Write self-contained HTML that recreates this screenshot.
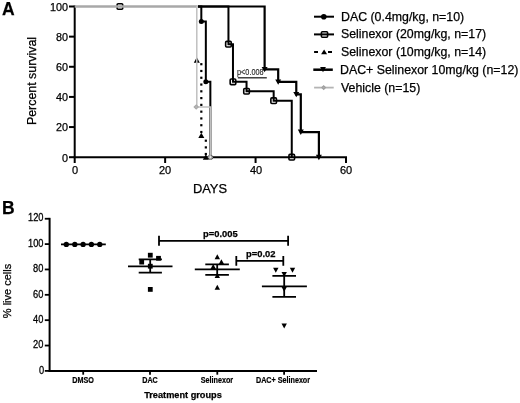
<!DOCTYPE html>
<html><head><meta charset="utf-8"><style>
html,body{margin:0;padding:0;background:#fff;}
body{width:520px;height:403px;position:relative;overflow:hidden;font-family:"Liberation Sans",sans-serif;color:#000;}
.t{position:absolute;white-space:nowrap;line-height:1;will-change:transform;-webkit-text-stroke:0.25px #000;}
.b{font-weight:bold;}
.r{text-align:right;}
.c{text-align:center;}
</style></head><body>
<svg width="520" height="403" viewBox="0 0 520 403" style="position:absolute;left:0;top:0">
<g stroke="#000" stroke-width="2" fill="none" stroke-linecap="butt">
<path d="M74.7,5.5 V163.0"/>
<path d="M73.7,157.2 H347.02"/>
<path d="M165.14,157.2 V163.0"/>
<path d="M255.58,157.2 V163.0"/>
<path d="M346.02,157.2 V163.0"/>
<path d="M69.00,157.20 H74.7"/>
<path d="M69.00,127.06 H74.7"/>
<path d="M69.00,96.92 H74.7"/>
<path d="M69.00,66.78 H74.7"/>
<path d="M69.00,36.64 H74.7"/>
<path d="M69.00,6.50 H74.7"/>
</g>
<g fill="none" stroke="#000" stroke-width="2">
<path d="M197.92,6.50 H228.45 V44.17 H232.97 V81.85 H246.54 V91.27 H273.67 V100.69 H291.76 V157.20"/>
<path d="M197.92,6.50 H264.62 V69.34 H278.19 V81.85 H296.28 V94.36 H300.80 V132.03 H318.89 V157.20" stroke-width="2.2"/>
<path d="M197.92,6.50 H201.32 V21.57 H205.84 V81.85 H210.36 V157.20"/>
</g>
<rect x="117.12" y="3.70" width="5.6" height="5.6" rx="1.0" fill="none" stroke="#000" stroke-width="1.6"/>
<rect x="225.65" y="41.38" width="5.6" height="5.6" rx="1.0" fill="none" stroke="#000" stroke-width="1.6"/>
<rect x="230.17" y="79.05" width="5.6" height="5.6" rx="1.0" fill="none" stroke="#000" stroke-width="1.6"/>
<rect x="243.74" y="88.47" width="5.6" height="5.6" rx="1.0" fill="none" stroke="#000" stroke-width="1.6"/>
<rect x="270.87" y="97.89" width="5.6" height="5.6" rx="1.0" fill="none" stroke="#000" stroke-width="1.6"/>
<rect x="288.96" y="154.40" width="5.6" height="5.6" rx="1.0" fill="none" stroke="#000" stroke-width="1.6"/>
<circle cx="201.32" cy="21.57" r="2.5" fill="#000"/>
<circle cx="205.84" cy="81.85" r="2.5" fill="#000"/>
<circle cx="210.36" cy="157.20" r="2.5" fill="#000"/>
<rect x="200.22" y="63.10" width="2.2" height="2.2" fill="#000"/>
<rect x="200.22" y="69.88" width="2.2" height="2.2" fill="#000"/>
<rect x="200.22" y="76.66" width="2.2" height="2.2" fill="#000"/>
<rect x="200.22" y="83.44" width="2.2" height="2.2" fill="#000"/>
<rect x="200.22" y="90.22" width="2.2" height="2.2" fill="#000"/>
<rect x="200.22" y="97.00" width="2.2" height="2.2" fill="#000"/>
<rect x="200.22" y="103.78" width="2.2" height="2.2" fill="#000"/>
<rect x="200.22" y="110.56" width="2.2" height="2.2" fill="#000"/>
<rect x="200.22" y="117.34" width="2.2" height="2.2" fill="#000"/>
<rect x="200.22" y="124.12" width="2.2" height="2.2" fill="#000"/>
<rect x="200.22" y="130.90" width="2.2" height="2.2" fill="#000"/>
<rect x="204.74" y="139.60" width="2.2" height="2.2" fill="#000"/>
<rect x="204.74" y="146.30" width="2.2" height="2.2" fill="#000"/>
<rect x="204.74" y="152.90" width="2.2" height="2.2" fill="#000"/>
<path d="M196.79,57.33 L199.79,62.73 L193.79,62.73Z" fill="#000"/>
<path d="M201.32,132.68 L204.32,138.08 L198.32,138.08Z" fill="#000"/>
<path d="M205.84,154.23 L208.84,159.63 L202.84,159.63Z" fill="#000"/>
<path d="M264.62,72.31 L267.62,66.91 L261.62,66.91Z" fill="#000"/>
<path d="M278.19,84.82 L281.19,79.42 L275.19,79.42Z" fill="#000"/>
<path d="M296.28,97.33 L299.28,91.93 L293.28,91.93Z" fill="#000"/>
<path d="M300.80,135.00 L303.80,129.60 L297.80,129.60Z" fill="#000"/>
<path d="M318.89,160.17 L321.89,154.77 L315.89,154.77Z" fill="#000"/>
<path d="M74.7,6.5 H197.19400000000002" fill="none" stroke="#a8a8a8" stroke-width="2.3"/>
<path d="M196.794,5.4 V107.01689999999999 H210.36 V157.2" fill="none" stroke="#c0c0c0" stroke-width="1.5"/>
<path d="M196.19,105.02 L198.19,107.02 L196.19,109.02 L194.19,107.02Z" fill="#b8b8b8" stroke="#aaa" stroke-width="1.2"/>
<path d="M210.36,155.20 L212.36,157.20 L210.36,159.20 L208.36,157.20Z" fill="#eee" stroke="#aaa" stroke-width="1.2"/>
<path d="M237.8,77.8 H266.8" stroke="#222" stroke-width="1.3"/>
<g stroke="#000" stroke-width="2" fill="none">
<path d="M314,16.7 H334"/>
<path d="M314,34.4 H334"/>
<path d="M314.1,52.0 H318 M328,52.0 H332"/>
<path d="M313.3,69.7 H332.8" stroke-width="2.5"/>
<path d="M314.1,87.6 H333.7" stroke="#b4b4b4" stroke-width="1.8"/>
</g>
<circle cx="323.80" cy="16.70" r="2.8" fill="#000"/>
<rect x="321.4" y="31.80" width="6.2" height="5.4" rx="1" fill="none" stroke="#000" stroke-width="1.6"/>
<path d="M324.10,49.56 L327.10,54.36 L321.10,54.36Z" fill="#000"/>
<path d="M323.00,72.16 L325.90,66.96 L320.10,66.96Z" fill="#000"/>
<path d="M323.70,85.80 L325.50,87.60 L323.70,89.40 L321.90,87.60Z" fill="#b0b0b0" stroke="#a0a0a0" stroke-width="1.2"/>
<g stroke="#000" stroke-width="1.8" fill="none">
<path d="M49.6,217.84 V371.90" stroke-width="2"/>
<path d="M48.6,370.90 H317" stroke-width="2"/>
<path d="M44.8,370.90 H49.5"/>
<path d="M44.8,345.54 H49.5"/>
<path d="M44.8,320.18 H49.5"/>
<path d="M44.8,294.82 H49.5"/>
<path d="M44.8,269.46 H49.5"/>
<path d="M44.8,244.10 H49.5"/>
<path d="M44.8,218.74 H49.5"/>
<path d="M83.2,370.90 V374.70"/>
<path d="M150.0,370.90 V374.70"/>
<path d="M217.3,370.90 V374.70"/>
<path d="M284.1,370.90 V374.70"/>
<path d="M159,240.8 H288.1 M159,235.8 V245.8 M288.1,235.8 V245.8"/>
<path d="M236.3,260.9 H283.3 M236.3,256 V265.8 M283.3,256 V265.8"/>
<path d="M61,244.4 H105.8"/>
<path d="M128,266.4 H172.5 M138.7,259.3 H161.9 M138.7,272.6 H161.9 M150.2,259.3 V272.6"/>
<path d="M194.8,269.3 H239.8 M205.3,264.4 H228.9 M205.3,274.8 H228.9 M217.2,264.4 V274.8"/>
<path d="M261.9,286.4 H306.9 M272.4,275.8 H296 M272.4,296.9 H296 M284.2,275.8 V296.9"/>
</g>
<circle cx="66.30" cy="244.40" r="2.65" fill="#000"/>
<circle cx="74.80" cy="244.40" r="2.65" fill="#000"/>
<circle cx="83.10" cy="244.40" r="2.65" fill="#000"/>
<circle cx="91.40" cy="244.40" r="2.65" fill="#000"/>
<circle cx="99.75" cy="244.40" r="2.65" fill="#000"/>
<rect x="147.90" y="252.80" width="4.8" height="4.8" fill="#000"/>
<rect x="156.10" y="255.90" width="4.8" height="4.8" fill="#000"/>
<rect x="139.30" y="259.70" width="4.8" height="4.8" fill="#000"/>
<rect x="147.90" y="263.80" width="4.8" height="4.8" fill="#000"/>
<rect x="147.90" y="287.00" width="4.8" height="4.8" fill="#000"/>
<path d="M217.30,254.25 L220.00,259.25 L214.60,259.25Z" fill="#000"/>
<path d="M221.40,259.25 L224.10,264.25 L218.70,264.25Z" fill="#000"/>
<path d="M213.20,264.05 L215.90,269.05 L210.50,269.05Z" fill="#000"/>
<path d="M217.30,272.95 L220.00,277.95 L214.60,277.95Z" fill="#000"/>
<path d="M217.30,284.85 L220.00,289.85 L214.60,289.85Z" fill="#000"/>
<path d="M275.80,272.65 L278.50,267.65 L273.10,267.65Z" fill="#000"/>
<path d="M292.50,272.65 L295.20,267.65 L289.80,267.65Z" fill="#000"/>
<path d="M284.20,276.95 L286.90,271.95 L281.50,271.95Z" fill="#000"/>
<path d="M284.20,291.75 L286.90,286.75 L281.50,286.75Z" fill="#000"/>
<path d="M284.20,328.55 L286.90,323.55 L281.50,323.55Z" fill="#000"/>
</svg>
<div class="t b" style="left:2.40px;top:0.87px;font-size:17.5px;">A</div>
<div class="t b" style="left:2.40px;top:199.77px;font-size:17.5px;">B</div>
<div class="t " style="right:451.50px;top:152.63px;font-size:10.8px;">0</div>
<div class="t " style="right:451.50px;top:122.49px;font-size:10.8px;">20</div>
<div class="t " style="right:451.50px;top:92.35px;font-size:10.8px;">40</div>
<div class="t " style="right:451.50px;top:62.21px;font-size:10.8px;">60</div>
<div class="t " style="right:451.50px;top:32.07px;font-size:10.8px;">80</div>
<div class="t " style="right:451.50px;top:1.93px;font-size:10.8px;">100</div>
<div class="t " style="left:-25.30px;width:200px;text-align:center;top:164.86px;font-size:11px;">0</div>
<div class="t " style="left:65.14px;width:200px;text-align:center;top:164.86px;font-size:11px;">20</div>
<div class="t " style="left:155.58px;width:200px;text-align:center;top:164.86px;font-size:11px;">40</div>
<div class="t " style="left:246.02px;width:200px;text-align:center;top:164.86px;font-size:11px;">60</div>
<div class="t " style="left:110.40px;width:200px;text-align:center;top:182.99px;font-size:12.9px;">DAYS</div>
<div class="t " style="left:236.50px;top:69.44px;font-size:7.3px;color:#222;-webkit-text-stroke:0.1px #222;transform:scaleY(1.2);transform-origin:50% 6.18px;">p&lt;0.008</div>
<div class="t " style="left:341.00px;top:10.64px;font-size:12.35px;">DAC (0.4mg/kg, n=10)</div>
<div class="t " style="left:341.00px;top:28.34px;font-size:12.35px;">Selinexor (20mg/kg, n=17)</div>
<div class="t " style="left:341.00px;top:45.94px;font-size:12.35px;">Selinexor (10mg/kg, n=14)</div>
<div class="t " style="left:339.80px;top:63.64px;font-size:12.35px;">DAC+ Selinexor 10mg/kg (n=12)</div>
<div class="t " style="left:341.00px;top:81.54px;font-size:12.35px;">Vehicle (n=15)</div>
<div class="t " style="right:476.30px;top:366.58px;font-size:9.3px;transform:scaleY(1.2);transform-origin:50% 4.54px;">0</div>
<div class="t " style="right:476.30px;top:341.22px;font-size:9.3px;transform:scaleY(1.2);transform-origin:50% 4.54px;">20</div>
<div class="t " style="right:476.30px;top:315.86px;font-size:9.3px;transform:scaleY(1.2);transform-origin:50% 4.54px;">40</div>
<div class="t " style="right:476.30px;top:290.50px;font-size:9.3px;transform:scaleY(1.2);transform-origin:50% 4.54px;">60</div>
<div class="t " style="right:476.30px;top:265.14px;font-size:9.3px;transform:scaleY(1.2);transform-origin:50% 4.54px;">80</div>
<div class="t " style="right:476.30px;top:239.78px;font-size:9.3px;transform:scaleY(1.2);transform-origin:50% 4.54px;">100</div>
<div class="t " style="right:476.30px;top:214.42px;font-size:9.3px;transform:scaleY(1.2);transform-origin:50% 4.54px;">120</div>
<div class="t b" style="left:-16.80px;width:200px;text-align:center;top:376.72px;font-size:7.2px;-webkit-text-stroke:0.18px #000;transform:scaleY(1.17);transform-origin:50% 6.09px;">DMSO</div>
<div class="t b" style="left:50.00px;width:200px;text-align:center;top:376.72px;font-size:7.2px;-webkit-text-stroke:0.18px #000;transform:scaleY(1.17);transform-origin:50% 6.09px;">DAC</div>
<div class="t b" style="left:117.30px;width:200px;text-align:center;top:376.72px;font-size:7.2px;-webkit-text-stroke:0.18px #000;transform:scaleY(1.17);transform-origin:50% 6.09px;">Selinexor</div>
<div class="t b" style="left:183.00px;width:200px;text-align:center;top:376.72px;font-size:7.2px;-webkit-text-stroke:0.18px #000;transform:scaleY(1.17);transform-origin:50% 6.09px;">DAC+ Selinexor</div>
<div class="t b" style="left:83.20px;width:200px;text-align:center;top:391.26px;font-size:9.2px;">Treatment groups</div>
<div class="t b" style="left:202.50px;top:228.99px;font-size:9.4px;">p=0.005</div>
<div class="t b" style="left:246.20px;top:249.29px;font-size:9.4px;">p=0.02</div>
<div class="t" style="left:-67.80px;top:74.90px;width:200px;height:12px;font-size:12.4px;text-align:center;transform:rotate(-90deg);transform-origin:100px 6px;">Percent survival</div>
<div class="t" style="left:-91.70px;top:285.00px;width:200px;height:12px;font-size:11px;text-align:center;transform:rotate(-90deg);transform-origin:100px 6px;">% live cells</div>
</body></html>
